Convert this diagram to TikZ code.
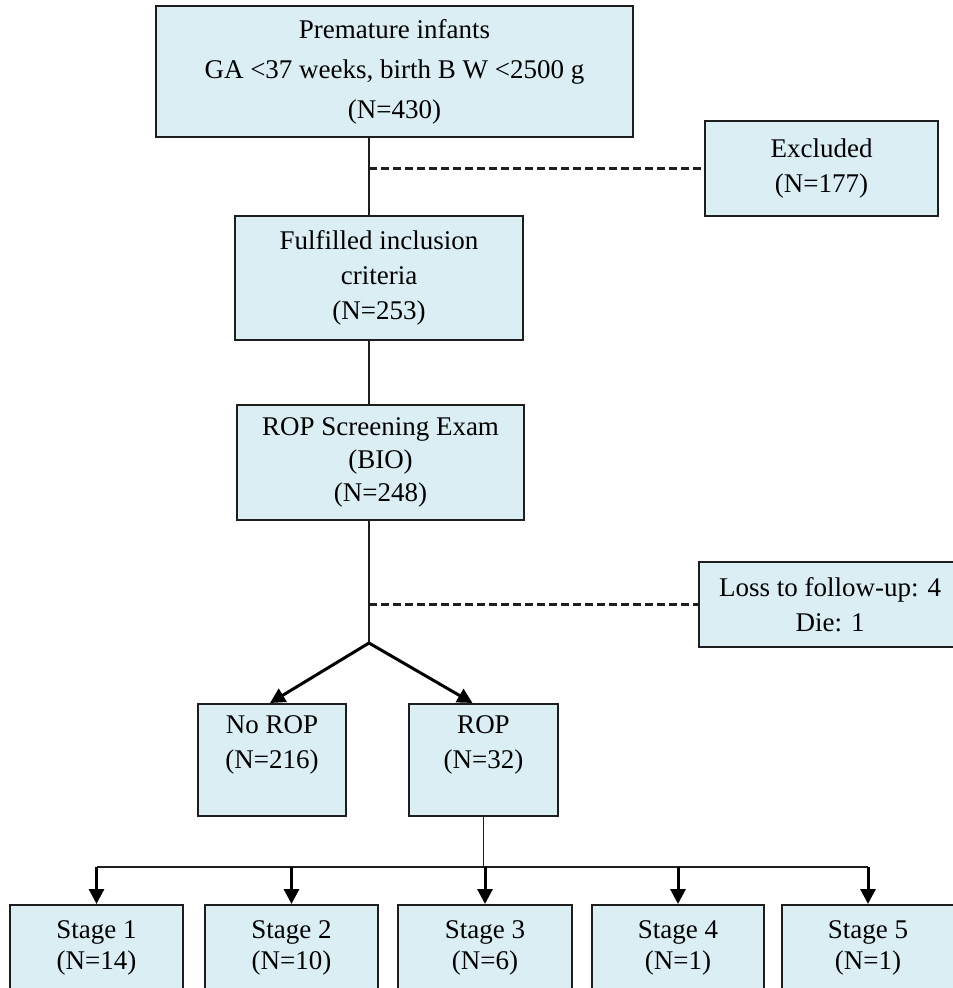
\documentclass[tikz,border=0pt]{standalone}
\usepackage{fontspec}
\setmainfont{Liberation Serif}
\usetikzlibrary{arrows.meta}
\definecolor{boxfill}{RGB}{219,238,244}
\definecolor{boxline}{RGB}{30,30,30}
\begin{document}
\begin{tikzpicture}[x=1pt,y=-1pt,
  box/.style={draw=boxline, line width=2pt, fill=boxfill, inner sep=0pt, align=center,
    font=\fontsize{27}{35}\selectfont},
  conn/.style={draw=boxline, line width=1.5pt},
  dashconn/.style={draw=boxline, line width=2.2pt, dash pattern=on 8pt off 4pt},
  arr/.style={draw=black, line width=3pt, -{Triangle[length=15pt,width=15pt]}}]
\useasboundingbox (0,0) rectangle (953,988);
\fill[white] (0,0) rectangle (953,988);

\node[box, minimum width=477pt, minimum height=131pt, font=\fontsize{27}{40}\selectfont] (top) at (394.5,71.5)
  {Premature infants\\GA <37 weeks, birth B W <2500 g\\(N=430)};
\node[box, minimum width=233pt, minimum height=95pt] (excl) at (821.5,168.5) {Excluded\\(N=177)};
\node[box, minimum width=288pt, minimum height=124pt] (ful) at (379,278) {Fulfilled inclusion\\criteria\\(N=253)};
\node[box, minimum width=287pt, minimum height=115pt, font=\fontsize{27}{33}\selectfont] (scr) at (380.5,462.5) {ROP Screening Exam\\(BIO)\\(N=248)};
\node[box, minimum width=262pt, minimum height=85pt] (loss) at (830,604.5) {Loss to follow-up: 4\\Die: 1};
\node[box, minimum width=148pt, minimum height=112pt] (norop) at (272,760) {No ROP\\(N=216)\\\mbox{}};
\node[box, minimum width=149pt, minimum height=112pt] (rop) at (483.5,760) {ROP\\(N=32)\\\mbox{}};

\node[box, minimum width=173pt, minimum height=85pt, font=\fontsize{27}{31}\selectfont] (s1) at (96.5,947.5) {Stage 1\\(N=14)};
\node[box, minimum width=173pt, minimum height=85pt, font=\fontsize{27}{31}\selectfont] (s2) at (291.5,947.5) {Stage 2\\(N=10)};
\node[box, minimum width=174pt, minimum height=85pt, font=\fontsize{27}{31}\selectfont] (s3) at (485,947.5) {Stage 3\\(N=6)};
\node[box, minimum width=172pt, minimum height=85pt, font=\fontsize{27}{31}\selectfont] (s4) at (678,947.5) {Stage 4\\(N=1)};
\node[box, minimum width=172pt, minimum height=85pt, font=\fontsize{27}{31}\selectfont] (s5) at (868,947.5) {Stage 5\\(N=1)};

\coordinate (spine) at (369,0);
\coordinate (br) at (369,643);
\coordinate (hb) at (483,867);

% spine
\draw[conn] (top.south -| spine) -- (ful.north -| spine);
\draw[conn] (ful.south -| spine) -- (scr.north -| spine);
\draw[conn] (scr.south -| spine) -- (br);
\draw[dashconn] (spine |- excl.west) -- (excl.west);
\draw[dashconn] (spine |- loss.west) -- (loss.west);

% branch
\draw[arr] (br) -- ([xshift=-2pt]norop.north);
\draw[arr] (br) -- ([xshift=-11pt]rop.north);

% stages
\draw[conn] (rop.south) -- (rop.south |- hb);
\draw[conn] (s1.north |- hb) -- (s5.north |- hb);
\foreach \s in {s1,s2,s3,s4,s5}
  \draw[arr] (\s.north |- hb) -- (\s.north);
\end{tikzpicture}
\end{document}
